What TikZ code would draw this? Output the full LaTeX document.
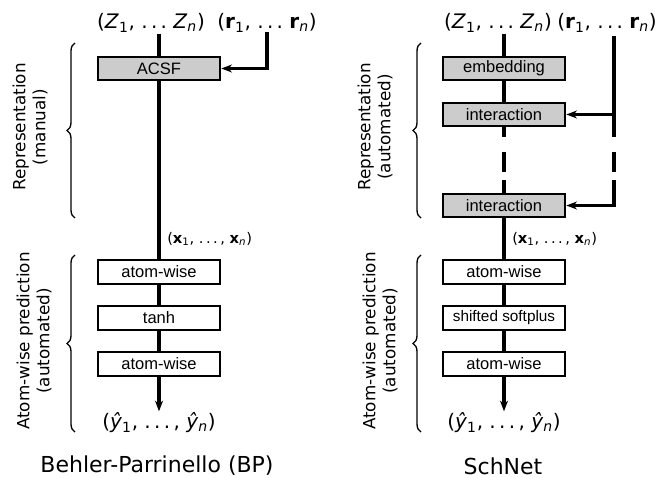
\documentclass[tikz,border=0pt]{standalone}
\usepackage{fontspec}
\setmainfont{DejaVu Sans}
\newfontfamily\boxfont{Liberation Sans}
\usetikzlibrary{arrows.meta,decorations.pathreplacing}

\tikzset{
  layer/.style={draw, line width=1.5pt, minimum width=92pt, minimum height=17.5pt, inner sep=0pt,
    font=\boxfont\fontsize{12.4}{14}\selectfont},
  replayer/.style={layer, fill=black!20},
  flow/.style={line width=2.4pt},
  feed/.style={flow, line cap=rect, -{Stealth[length=8pt,width=6pt]}},
  curly/.style={decorate, decoration={brace, amplitude=6pt}, line width=1pt},
  bracetext/.style={rotate=90, align=center, font=\fontsize{12.6}{15}\selectfont},
  vecs/.style={font=\fontsize{15}{18}\selectfont, inner sep=1pt},
  feats/.style={font=\fontsize{11}{13}\selectfont, anchor=west, inner sep=0pt},
  title/.style={font=\fontsize{16.5}{20}\selectfont, inner sep=0pt},
}

\begin{document}
\begin{tikzpicture}[x=0.75pt,y=-0.75pt]
\useasboundingbox (0,0) rectangle (657,478);

% Behler-Parrinello
\node[vecs] (zbp) at (151,23) {(\textit{Z}\textsubscript{1}, .\,.\,.\ \textit{Z}\textsubscript{\textit{n}})};
\node[vecs] (rbp) at (267,23) {(\textbf{r}\textsubscript{1}, .\,.\,.\ \textbf{r}\textsubscript{\textit{n}})};
\node[replayer] (acsf) at (159,68.5) {ACSF};
\node[layer] (aw1) at (159,272) {atom-wise};
\node[layer] (act1) at (159,318) {tanh};
\node[layer] (aw2) at (159,364) {atom-wise};
\node[vecs] (ybp) at (159,423) {(\textit{ŷ}\textsubscript{1}, .\,.\,.\,, \textit{ŷ}\textsubscript{\textit{n}})};
\node[feats] (xbp) at (167,239) {(\textbf{x}\textsubscript{1}, .\,.\,.\,, \textbf{x}\textsubscript{\textit{n}})};
\node[title] (tbp) at (157,466) {Behler-Parrinello (BP)};

\draw[flow] (acsf.north |- zbp.south) -- (acsf);
\draw[feed] (rbp.south) |- (acsf.east);
\draw[flow] (acsf) -- (aw1);
\draw[flow] (aw1) -- (act1) -- (aw2);
\draw[feed] (aw2) -- (ybp);

\draw[curly] (75,218) -- (75,43);
\node[bracetext] (repbp) at (30,127) {Representation\\(manual)};
\draw[curly] (75,432) -- (75,255);
\node[bracetext] (predbp) at (34,341) {Atom-wise prediction\\(automated)};

% SchNet
\node[vecs] (zsn) at (498,23) {(\textit{Z}\textsubscript{1}, .\,.\,.\ \textit{Z}\textsubscript{\textit{n}})};
\node[vecs] (rsn) at (607,23) {(\textbf{r}\textsubscript{1}, .\,.\,.\ \textbf{r}\textsubscript{\textit{n}})};
\coordinate (rin) at (614,36);
\node[replayer] (emb) at (504,68.5) {embedding};
\node[replayer] (int1) at (504,114.5) {interaction};
\node[replayer] (int2) at (504,205.5) {interaction};
\node[layer] (aw3) at (504,272) {atom-wise};
\node[layer, font=\boxfont\fontsize{11.5}{13}\selectfont] (act2) at (504,318) {shifted softplus};
\node[layer] (aw4) at (504,364) {atom-wise};
\node[vecs] (ysn) at (504,423) {(\textit{ŷ}\textsubscript{1}, .\,.\,.\,, \textit{ŷ}\textsubscript{\textit{n}})};
\node[feats] (xsn) at (512,239) {(\textbf{x}\textsubscript{1}, .\,.\,.\,, \textbf{x}\textsubscript{\textit{n}})};
\node[title] (tsn) at (503,466) {SchNet};

\draw[flow] (emb.north |- zsn.south) -- (emb);
\draw[flow] (emb) -- (int1);
\draw[flow, dash pattern=on 7.5pt off 11.25pt on 15pt off 6pt on 9.75pt] (int1) -- (int2);
\draw[flow, dash pattern=on 75.75pt off 11.25pt on 15pt off 6pt on 30pt] (rin) -- (rin |- int2.east);
\draw[feed] (rin |- int1.east) -- (int1.east);
\draw[feed] (rin |- int2.east) -- (int2.east);
\draw[flow] (int2) -- (aw3);
\draw[flow] (aw3) -- (act2) -- (aw4);
\draw[feed] (aw4) -- (ysn);

\draw[curly] (421,218) -- (421,43);
\node[bracetext] (repsn) at (375,127) {Representation\\(automated)};
\draw[curly] (421,432) -- (421,255);
\node[bracetext] (predsn) at (380,341) {Atom-wise prediction\\(automated)};
\end{tikzpicture}
\end{document}
